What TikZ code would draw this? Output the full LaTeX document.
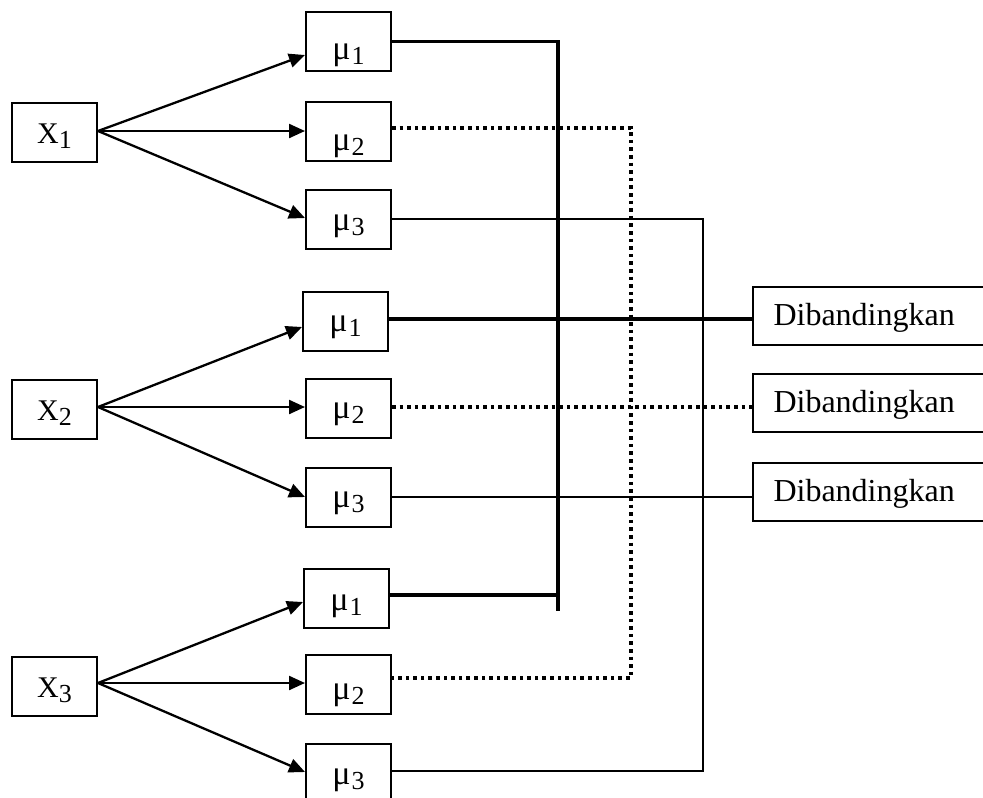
\documentclass[tikz,border=0pt]{standalone}
\usepackage{fontspec}
\setmainfont{Liberation Serif}
\usetikzlibrary{arrows.meta,calc}

% labels set with their baseline #1 below the centre of the box
\newcommand{\mulabel}[2][12pt]{\raisebox{-#1}[0pt][0pt]{\fontsize{34}{36}\selectfont μ\hspace{1pt}\raisebox{-5pt}{\fontsize{26}{28}\selectfont #2}}}
\newcommand{\xlabel}[2][11pt]{\raisebox{-#1}[0pt][0pt]{\fontsize{30}{32}\selectfont X\raisebox{-5pt}{\fontsize{26}{28}\selectfont #2}}}

\tikzset{
  varbox/.style={draw, line width=2pt, minimum width=85pt, minimum height=59pt, inner sep=0pt},
  meanbox/.style={draw, line width=2pt, minimum width=85pt, minimum height=59pt, inner sep=0pt},
  resultbox/.style={draw, line width=2pt, minimum width=250pt, minimum height=58pt, inner sep=0pt},
  arr/.style={line width=2.3pt, -{Triangle[length=16pt,width=14pt]}},
  thickline/.style={line width=3.5pt},
  dotline/.style={line width=3.6pt, dash pattern=on 3.6pt off 4pt},
  thinline/.style={line width=1.5pt}
}

\begin{document}
\begin{tikzpicture}[x=1pt, y=-1pt]
  \clip (0,0) rectangle (983,798);
  \fill[white] (0,0) rectangle (983,798);

  % factor levels
  \node[varbox] (X1) at (54.5,132.5) {\xlabel{1}};
  \node[varbox] (X2) at (54.5,409.5) {\xlabel{2}};
  \node[varbox] (X3) at (54.5,686.5) {\xlabel{3}};

  % means of each level
  \node[meanbox] (m11) at (348.5,41.5) {\mulabel[18pt]{1}};
  \node[meanbox] (m12) at (348.5,131)  {\mulabel[19pt]{2}};
  \node[meanbox] (m13) at (348.5,219)  {\mulabel[11pt]{3}};
  \node[meanbox] (m21) at (345.5,321)  {\mulabel[10pt]{1}};
  \node[meanbox] (m22) at (348.5,408)  {\mulabel[10pt]{2}};
  \node[meanbox] (m23) at (348.5,497)  {\mulabel[10pt]{3}};
  \node[meanbox] (m31) at (346.5,598)  {\mulabel[12pt]{1}};
  \node[meanbox] (m32) at (348.5,684.5){\mulabel[15pt]{2}};
  \node[meanbox] (m33) at (348.5,773.5){\mulabel[11pt]{3}};

  % comparison boxes
  \node[resultbox, anchor=west] (r1) at (752,316) {};
  \node[resultbox, anchor=west] (r2) at (752,402.5) {};
  \node[resultbox, anchor=west] (r3) at (752,491.5) {};
  \node[anchor=west, font=\fontsize{32}{34}\selectfont] (t1) at (770,318) {Dibandingkan};
  \node[anchor=west, font=\fontsize{32}{34}\selectfont] (t2) at (770,404.5) {Dibandingkan};
  \node[anchor=west, font=\fontsize{32}{34}\selectfont] (t3) at (770,493.5) {Dibandingkan};

  % arrows from each level to its means
  \draw[arr] ($(X1.east)+(0,-1.5)$) -- ($(m11.west)+(0,13.5)$);
  \draw[arr] ($(X1.east)+(0,-1.5)$) -- (m12.west);
  \draw[arr] ($(X1.east)+(0,-1.5)$) -- ($(m13.west)+(0,-1)$);
  \draw[arr] ($(X2.east)+(0,-2.5)$) -- ($(m21.west)+(0,6)$);
  \draw[arr] ($(X2.east)+(0,-2.5)$) -- ($(m22.west)+(0,-1)$);
  \draw[arr] ($(X2.east)+(0,-2.5)$) -- (m23.west);
  \draw[arr] ($(X3.east)+(0,-3.5)$) -- ($(m31.west)+(0,4)$);
  \draw[arr] ($(X3.east)+(0,-3.5)$) -- ($(m32.west)+(0,-1.5)$);
  \draw[arr] ($(X3.east)+(0,-3.5)$) -- ($(m33.west)+(0,-1.5)$);

  % first means: thick connector
  \coordinate (thickend) at (558,611);
  \draw[thickline] (m11.east) -- (thickend |- m11.east) -- (thickend);
  \draw[thickline] ($(m31.east)+(0,-3)$) -- (thickend |- {$(m31.east)+(0,-3)$});
  \draw[thickline] ($(m21.east)+(0,-2)$) -- (r1.west |- {$(m21.east)+(0,-2)$});

  % second means: dotted connector
  \coordinate (dotx) at (631,0);
  \draw[dotline] ($(m12.east)+(0,-3)$) -- (dotx |- {$(m12.east)+(0,-3)$})
                 -- (dotx |- {$(m32.east)+(0,-6.5)$}) -- ($(m32.east)+(0,-6.5)$);
  \draw[dotline] ($(m22.east)+(0,-1)$) -- (r2.west |- {$(m22.east)+(0,-1)$});

  % third means: thin connector
  \coordinate (thinx) at (703,0);
  \draw[thinline] (m13.east) -- (thinx |- m13.east)
                  -- (thinx |- {$(m33.east)+(0,-2.5)$}) -- ($(m33.east)+(0,-2.5)$);
  \draw[thinline] (m23.east) -- (r3.west |- m23.east);
\end{tikzpicture}
\end{document}
